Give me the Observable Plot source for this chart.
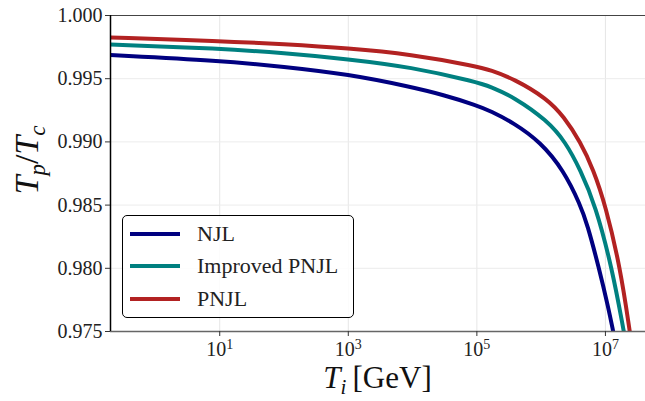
<!DOCTYPE html>
<html><head><meta charset="utf-8">
<script src="https://cdn.jsdelivr.net/npm/d3@7"></script>
<script src="https://cdn.jsdelivr.net/npm/@observablehq/plot@0.6"></script>
<style>
body{margin:0;background:#fff;}
#wrap{position:relative;width:645px;height:401px;font-family:"Liberation Serif",serif;overflow:hidden;}
#legend{position:absolute;left:122px;top:215px;width:232px;height:103px;border:1px solid #000;border-radius:5px;background:rgba(255,255,255,0.85);box-sizing:border-box;}
.item{position:absolute;left:0;height:32px;width:100%;}
.sw{position:absolute;left:7px;top:14px;width:50px;height:4px;}
.lab{position:absolute;left:74px;top:0;line-height:32px;font-size:22px;color:#222;white-space:nowrap;}
</style></head>
<body><div id="wrap"></div>
<script>
const series = ["NJL", "Improved PNJL", "PNJL"];
const colors = ["#000080", "#008080", "#b22222"];

const T_NJL = [0.2, 10, 100, 1e3, 9.3e3, 3e4, 1e5, 1.62e5, 3.75e5, 9.75e5, 2.25e6, 4.08e6, 5.19e6, 7.87e6, 1.12e7, 1.32e7];
const v_NJL = [0.99688, 0.99643, 0.99595, 0.99535, 0.99436, 0.99372, 0.99289, 0.99245, 0.99150, 0.99000, 0.98774, 0.98500, 0.98352, 0.98010, 0.97680, 0.97500];

const T_IPNJL = [0.2, 10, 100, 1e3, 9.3e3, 1e5, 1.62e5, 3.75e5, 1.24e6, 2.39e6, 4.08e6, 6.98e6, 1.27e7, 1.93e7];
const v_IPNJL = [0.99770, 0.99739, 0.99703, 0.99655, 0.99593, 0.99474, 0.99438, 0.99355, 0.99170, 0.99000, 0.98778, 0.98500, 0.98000, 0.97500];

const T_PNJL = [0.2, 10, 100, 1e3, 9.3e3, 1e5, 1.62e5, 3.75e5, 1.24e6, 2.25e6, 4.08e6, 6.5e6, 1.0e7, 1.71e7, 2.39e7];
const v_PNJL = [0.99826, 0.99799, 0.99773, 0.99741, 0.99693, 0.99598, 0.99568, 0.99500, 0.99342, 0.99200, 0.99000, 0.98780, 0.98500, 0.98000, 0.97500];

const xTicks = [1e1, 1e3, 1e5, 1e7];
const yTicks = [0.975, 0.980, 0.985, 0.990, 0.995, 1.000];
const xDomain = [0.2, 4.2e7];
const yDomain = [0.975, 1.0];

const allT = [T_NJL, T_IPNJL, T_PNJL];
const allV = [v_NJL, v_IPNJL, v_PNJL];
const rows = series.flatMap((s, i) => allT[i].map((t, j) => ({series: s, T: t, v: allV[i][j]})));

const chart = Plot.plot({
  width: 645, height: 401,
  marginLeft: 110, marginRight: 0, marginTop: 15, marginBottom: 70,
  style: {fontFamily: "Liberation Serif", fontSize: "20px", background: "#fff", color: "#222"},
  x: {type: "log", domain: xDomain},
  y: {domain: yDomain},
  color: {domain: series, range: colors},
  marks: [
    Plot.gridX(xTicks, {stroke: "#e6e6e6", strokeOpacity: 1, strokeWidth: 1}),
    Plot.gridY(yTicks, {stroke: "#ececec", strokeOpacity: 1, strokeWidth: 1}),
    Plot.line(rows, {x: "T", y: "v", z: "series", stroke: "series", strokeWidth: 4, curve: "basis", clip: true}),
    Plot.ruleY([yDomain[0]], {stroke: "#666", strokeWidth: 1.5}),
    Plot.ruleY([yDomain[1]], {stroke: "#444", strokeWidth: 1.2}),
    Plot.ruleX([xDomain[0]], {stroke: "#000", strokeWidth: 1.5}),
    Plot.axisX(xTicks, {tickSize: 5, tickPadding: 5, label: null, stroke: "#333",
      tickFormat: d => "10^" + Math.round(Math.log10(d)), fontSize: 20}),
    Plot.axisY(yTicks, {tickSize: 5, tickPadding: 3, label: null, stroke: "#333",
      tickFormat: d3.format(".3f"), fontSize: 20})
  ]
});

const svg = d3.select(chart);
svg.selectAll("text").each(function() {
  const t = d3.select(this);
  const s = t.text();
  if (s.startsWith("10^")) {
    const e = s.slice(3);
    t.text("10");
    t.append("tspan").attr("dy", "-0.5em").attr("font-size", "14px").text(e);
  }
});

// axis labels
const xl = svg.append("text")
  .attr("x", (110 + 645) / 2).attr("y", 388)
  .attr("text-anchor", "middle").attr("font-size", "31px").attr("fill", "#111")
  .attr("font-family", "Liberation Serif");
xl.append("tspan").attr("font-style", "italic").text("T");
xl.append("tspan").attr("font-style", "italic").attr("font-size", "21px").attr("dy", "6").text("i");
xl.append("tspan").attr("dy", "-6").text("\u2009[GeV]");

const yl = svg.append("text")
  .attr("transform", "translate(38,160) rotate(-90)")
  .attr("text-anchor", "middle").attr("font-size", "34px").attr("fill", "#111")
  .attr("font-family", "Liberation Serif").attr("font-style", "italic");
yl.append("tspan").text("T");
yl.append("tspan").attr("font-size", "23px").attr("dy", "7").text("p");
yl.append("tspan").attr("dy", "-7").attr("font-style", "normal").text("/");
yl.append("tspan").text("T");
yl.append("tspan").attr("font-size", "23px").attr("dy", "7").text("c");

const wrap = document.getElementById("wrap");
wrap.appendChild(chart);

const leg = document.createElement("div");
leg.id = "legend";
series.forEach((s, i) => {
  const it = document.createElement("div");
  it.className = "item";
  it.style.top = (2 + i * 32.3) + "px";
  const sw = document.createElement("div");
  sw.className = "sw"; sw.style.background = colors[i];
  const lb = document.createElement("div");
  lb.className = "lab"; lb.textContent = s;
  it.appendChild(sw); it.appendChild(lb);
  leg.appendChild(it);
});
wrap.appendChild(leg);
</script>
</body></html>
